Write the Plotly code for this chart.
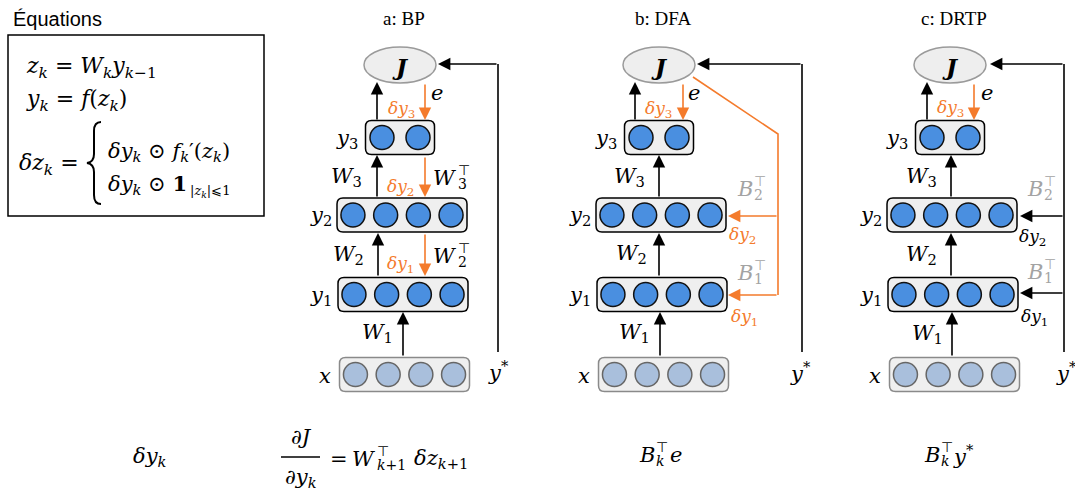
import plotly.graph_objects as go

# ---------------- content ----------------
panel_titles = ["a: BP", "b: DFA", "c: DRTP"]
layer_names = ["x", "y1", "y2", "y3"]
layer_units = [4, 4, 4, 2]
weight_names = ["W1", "W2", "W3"]
bp_feedback = ["W2", "W3"]          # transposed weights in BP
fb_names = ["B1", "B2"]             # fixed random feedback matrices
grad_names = ["δy1", "δy2", "δy3"]
bottom_row = ["δy_k", "∂J/∂y_k = W_{k+1}^T δz_{k+1}", "B_k^T e", "B_k^T y*"]

# ---------------- geometry / style ----------------
W, H = 1075, 496
PCX = [402, 661, 952]
LAYER_Y = [374.5, 294.5, 215, 137.5]
LAYER_DX = [2.5, 1, 0, -2]
LABEL_DX = [-77, -81.5, -81, -55]
J_Y, J_DX, J_RX, J_RY = 65, -2, 36, 18
BOX_H = 34
SP = 32.7
ORANGE = "#f47b2c"
BLUE = "#4a8fe0"
LIGHT = "#a9bfdc"
GRAY = "#a3a3a3"
MATH = "DejaVu Serif"
TITLE = "Liberation Serif"
SANS = "Liberation Sans"

shapes, annos, traces = [], [], []


def rrect(x0, y0, x1, y1, r=6):
    return (f"M{x0+r},{y0} L{x1-r},{y0} Q{x1},{y0} {x1},{y0+r} L{x1},{y1-r} "
            f"Q{x1},{y1} {x1-r},{y1} L{x0+r},{y1} Q{x0},{y1} {x0},{y1-r} "
            f"L{x0},{y0+r} Q{x0},{y0} {x0+r},{y0} Z")


def txt(x, y, s, size=20, color="black", family=MATH, xanchor="center"):
    annos.append(dict(x=x, y=y, xref="x", yref="y", text=s, showarrow=False,
                      xanchor=xanchor, yanchor="middle",
                      font=dict(size=size, color=color, family=family)))


def arrow(x0, y0, x1, y1, color="black"):
    annos.append(dict(x=x1, y=y1, ax=x0, ay=y0, xref="x", yref="y",
                      axref="x", ayref="y", text="", showarrow=True,
                      arrowhead=2, arrowsize=1.55, arrowwidth=1.6,
                      arrowcolor=color, standoff=0, startstandoff=0))


def line(xs, ys, color="black"):
    traces.append(go.Scatter(x=xs, y=ys, mode="lines", hoverinfo="skip",
                             line=dict(color=color, width=1.6), showlegend=False))


def stacked(xs, y, base, sub, sup="⊤", color="black", size=20):
    txt(xs, y, f"<i>{base}</i>", size=size, color=color, xanchor="right")
    txt(xs - 3, y - 8, sup, size=14, color=color, family="DejaVu Sans", xanchor="left")
    txt(xs - 3, y + 6, sub, size=14, color=color, xanchor="left")


def sublabel(name):
    if len(name) > 1 and name[-1].isdigit():
        return f"<i>{name[:-1]}</i><sub>{name[-1]}</sub>"
    return f"<i>{name}</i>"


# ---------------- equations box ----------------
txt(11, 19, "Équations", size=20, family=SANS, xanchor="left")
shapes.append(dict(type="rect", x0=8, y0=35, x1=264, y1=216,
                   line=dict(color="black", width=1.5), fillcolor="rgba(0,0,0,0)"))
K = "<sub><i>k</i></sub>"
txt(24, 67, f"<i>z</i>{K} = <i>W</i>{K}<i>y</i><sub><i>k</i>−1</sub>", size=22, xanchor="left")
txt(24, 100, f"<i>y</i>{K} = <i>f</i>(<i>z</i>{K})", size=22, xanchor="left")
txt(17, 164, f"<i>δz</i>{K} =", size=22, xanchor="left")
shapes.append(dict(type="path",
                   path="M101,122 Q94,122 94,131 L94,154 Q94,162 87,163 Q94,164 94,172 L94,195 Q94,204 101,204",
                   line=dict(color="black", width=2)))
txt(106, 152, f"<i>δy</i>{K} ⊙ <i>f</i>{K}′(<i>z</i>{K})", size=21, xanchor="left")
txt(106, 184, f"<i>δy</i>{K} ⊙ <b>1</b>", size=21, xanchor="left")
txt(188, 191, "|<i>z</i><sub><i>k</i></sub>|⩽1", size=13, xanchor="left")

# ---------------- panels ----------------
for p, cx in enumerate(PCX):
    txt(cx + 2, 18, panel_titles[p], size=19, family=TITLE)
    # cost ellipse
    jx = cx + J_DX
    shapes.append(dict(type="circle", x0=jx - J_RX, x1=jx + J_RX, y0=J_Y - J_RY, y1=J_Y + J_RY,
                       fillcolor="#eeeeee", line=dict(color="#9a9a9a", width=1.5)))
    txt(jx, J_Y + 1, "<b><i>J</i></b>", size=23)
    # layers
    for li, (ly, n) in enumerate(zip(LAYER_Y, layer_units)):
        lx = cx + LAYER_DX[li]
        half = 65 if n == 4 else 34.5
        inp = li == 0
        shapes.append(dict(type="path", path=rrect(lx - half, ly - BOX_H / 2, lx + half, ly + BOX_H / 2),
                           fillcolor="#efefef", layer="below",
                           line=dict(color="#8a8a8a" if inp else "black", width=1.5)))
        xs = [lx + (i - (n - 1) / 2) * (SP if n == 4 else 36) for i in range(n)]
        traces.append(go.Scatter(x=xs, y=[ly] * n, mode="markers", hoverinfo="skip", showlegend=False,
                                 marker=dict(size=24, color=LIGHT if inp else BLUE,
                                             line=dict(color="#666666" if inp else "#111111", width=1.5))))
        txt(cx + LABEL_DX[li], ly + 1, sublabel(layer_names[li]), size=21)

# ---- panel a: BP ----
cx = PCX[0]
arrow(cx - 25, 121, cx - 25, 82)
arrow(cx + 23, 83, cx + 23, 120, ORANGE)
arrow(cx - 25, 198, cx - 25, 155)
arrow(cx + 23, 156, cx + 23, 197, ORANGE)
arrow(cx - 24, 277, cx - 24, 233)
arrow(cx + 23, 233, cx + 23, 276, ORANGE)
arrow(cx + 1, 357, cx + 1, 312)
txt(cx + 35, 93, "<i>e</i>", size=21)
txt(cx - 1, 109, sublabel(grad_names[2]), size=17, color=ORANGE)
txt(cx - 2, 187, sublabel(grad_names[1]), size=17, color=ORANGE)
txt(cx - 2, 264, sublabel(grad_names[0]), size=17, color=ORANGE)
txt(cx - 56, 177, sublabel(weight_names[2]), size=21)
txt(cx - 54, 255, sublabel(weight_names[1]), size=21)
txt(cx - 25, 333, sublabel(weight_names[0]), size=21)
stacked(cx + 57, 178, bp_feedback[1][0], bp_feedback[1][1], size=21)
stacked(cx + 57, 256, bp_feedback[0][0], bp_feedback[0][1], size=21)
line([498, 498], [352, 64])
arrow(498, 64, 438, 64)
txt(498, 371, "<i>y</i><sup>*</sup>", size=21)

# ---- panel b: DFA ----
cx = PCX[1]
arrow(cx - 26, 121, cx - 26, 82)
arrow(cx + 22, 83, cx + 22, 120, ORANGE)
arrow(cx - 2, 198, cx - 2, 155)
arrow(cx - 2, 277, cx - 2, 233)
arrow(cx - 1, 357, cx - 1, 312)
txt(cx + 33, 93, "<i>e</i>", size=21)
txt(cx - 3, 109, sublabel(grad_names[2]), size=17, color=ORANGE)
txt(cx - 32, 177, sublabel(weight_names[2]), size=21)
txt(cx - 30, 254, sublabel(weight_names[1]), size=21)
txt(cx - 27, 333, sublabel(weight_names[0]), size=21)
line([802, 802], [352, 64])
arrow(802, 64, 697, 64)
line([693, 778, 778], [77, 134, 295], ORANGE)
arrow(778, 216, 728, 216, ORANGE)
arrow(778, 295, 728, 295, ORANGE)
stacked(755, 189, fb_names[1][0], fb_names[1][1], color=GRAY, size=21)
stacked(755, 273, fb_names[0][0], fb_names[0][1], color=GRAY, size=21)
txt(742, 235, sublabel(grad_names[1]), size=17, color=ORANGE)
txt(744, 317, sublabel(grad_names[0]), size=17, color=ORANGE)
txt(800, 372, "<i>y</i><sup>*</sup>", size=21)

# ---- panel c: DRTP ----
cx = PCX[2]
arrow(cx - 25, 121, cx - 25, 82)
arrow(cx + 22, 83, cx + 22, 120, ORANGE)
arrow(cx - 1, 198, cx - 1, 155)
arrow(cx - 1, 277, cx - 1, 233)
arrow(cx, 357, cx, 312)
txt(cx + 35, 93, "<i>e</i>", size=21)
txt(cx - 2, 108, sublabel(grad_names[2]), size=17, color=ORANGE)
txt(cx - 31, 177, sublabel(weight_names[2]), size=21)
txt(cx - 31, 255, sublabel(weight_names[1]), size=21)
txt(cx - 25, 334, sublabel(weight_names[0]), size=21)
line([1064, 1064], [352, 64])
arrow(1064, 64, 990, 64)
arrow(1064, 216, 1020, 216)
arrow(1064, 293, 1020, 293)
stacked(1045, 189, fb_names[1][0], fb_names[1][1], color=GRAY, size=21)
stacked(1045, 272, fb_names[0][0], fb_names[0][1], color=GRAY, size=21)
txt(1032, 237, sublabel(grad_names[1]), size=17)
txt(1034, 317, sublabel(grad_names[0]), size=17)
txt(1066, 372, "<i>y</i><sup>*</sup>", size=21)

# ---------------- bottom row ----------------
txt(150, 457, "<i>δy</i><sub><i>k</i></sub>", size=21)
txt(301, 437, "∂<i>J</i>", size=21)
shapes.append(dict(type="line", x0=281, x1=320, y0=457, y1=457, line=dict(color="black", width=1.3)))
txt(301, 478, "∂<i>y</i><sub><i>k</i></sub>", size=21)
txt(339, 459, "=", size=21)
stacked(378, 459, "W", "<i>k</i>+1", size=21)
txt(412, 459, "<i>δz</i><sub><i>k</i>+1</sub>", size=21, xanchor="left")
stacked(657, 455, "B", "<i>k</i>", size=21)
txt(668, 455, "<i>e</i>", size=21, xanchor="left")
stacked(942, 455, "B", "<i>k</i>", size=21)
txt(951, 455, "<i>y</i><sup>*</sup>", size=21, xanchor="left")

fig = go.Figure(traces)
fig.update_layout(width=W, height=H, margin=dict(l=0, r=0, t=0, b=0),
                  paper_bgcolor="white", plot_bgcolor="white",
                  shapes=shapes, annotations=annos, showlegend=False,
                  xaxis=dict(range=[0, W], visible=False, fixedrange=True),
                  yaxis=dict(range=[H, 0], visible=False, fixedrange=True))
fig.write_html("out.html", config={"displayModeBar": False},
               post_script="document.body.style.margin='0';document.body.style.overflow='hidden';")
